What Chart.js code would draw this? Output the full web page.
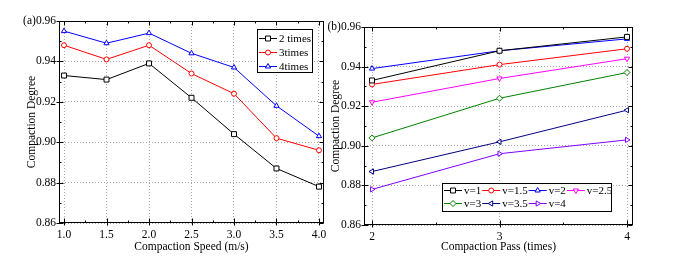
<!DOCTYPE html>
<html>
<head>
<meta charset="utf-8">
<script src="https://cdn.jsdelivr.net/npm/chart.js@4.4.1/dist/chart.umd.min.js"></script>
<style>
  html, body { margin: 0; padding: 0; background: #fff; }
  #wrap { position: relative; width: 678px; height: 272px; }
  canvas { position: absolute; left: 0; top: 0; }
</style>
</head>
<body>
<div id="wrap">
  <canvas id="speedChart" width="678" height="272"></canvas>
  <canvas id="passChart" width="678" height="272"></canvas>
</div>
<script>
// (a) compaction degree vs speed, one line per number of passes
const speeds = [1.0, 1.5, 2.0, 2.5, 3.0, 3.5, 4.0];
const twoTimes = [0.933, 0.931, 0.939, 0.922, 0.904, 0.887, 0.878];
const threeTimes = [0.948, 0.941, 0.948, 0.934, 0.924, 0.902, 0.896];
const fourTimes = [0.955, 0.949, 0.954, 0.944, 0.937, 0.918, 0.903];

// (b) compaction degree vs passes, one line per speed
const passes = [2, 3, 4];
const v1 = [0.933, 0.948, 0.955];
const v15 = [0.931, 0.941, 0.949];
const v2 = [0.939, 0.948, 0.954];
const v25 = [0.922, 0.934, 0.944];
const v3 = [0.904, 0.924, 0.937];
const v35 = [0.887, 0.902, 0.918];
const v4 = [0.878, 0.896, 0.903];

const degreeTicks = [0.86, 0.88, 0.90, 0.92, 0.94, 0.96];

Chart.defaults.font.family = "'Liberation Serif', 'Times New Roman', serif";
Chart.defaults.color = '#000';

const pts = (xs, ys) => xs.map((x, i) => ({ x: x, y: ys[i] }));
const mids = arr => arr.slice(1).map((v, i) => (v + arr[i]) / 2);

function series(label, xs, ys, color, style, rot, r) {
  return {
    label: label,
    data: pts(xs, ys),
    borderColor: color,
    borderWidth: 1,
    pointStyle: style,
    pointRotation: rot || 0,
    pointRadius: r || 3,
    pointBackgroundColor: '#fff',
    pointBorderColor: color,
    pointBorderWidth: 1,
    tension: 0
  };
}

// box, inward/crossing ticks on all four sides
const framePlugin = {
  id: 'frame',
  afterDraw(chart) {
    const { ctx, chartArea: a, scales } = chart;
    const xs = scales.x, ys = scales.y;
    const L = Math.round(a.left) + 0.5, R = Math.round(a.right) - 0.5;
    const T = Math.round(a.top) + 0.5, B = Math.round(a.bottom) - 0.5;
    ctx.save();
    ctx.strokeStyle = '#000';
    ctx.lineWidth = 1;
    ctx.beginPath();
    const xMaj = xs.ticks.map(t => t.value);
    const yMaj = ys.ticks.map(t => t.value);
    xMaj.forEach(v => {
      const p = Math.round(xs.getPixelForValue(v)) + 0.5;
      ctx.moveTo(p, B + 3); ctx.lineTo(p, B - 4);
      ctx.moveTo(p, T); ctx.lineTo(p, T + 4);
    });
    mids(xMaj).forEach(v => {
      const p = Math.round(xs.getPixelForValue(v)) + 0.5;
      ctx.moveTo(p, B); ctx.lineTo(p, B - 2);
      ctx.moveTo(p, T); ctx.lineTo(p, T + 2);
    });
    yMaj.forEach(v => {
      const p = Math.round(ys.getPixelForValue(v)) + 0.5;
      ctx.moveTo(L - 3, p); ctx.lineTo(L + 4, p);
      ctx.moveTo(R, p); ctx.lineTo(R - 4, p);
    });
    mids(yMaj).forEach(v => {
      const p = Math.round(ys.getPixelForValue(v)) + 0.5;
      ctx.moveTo(L, p); ctx.lineTo(L + 2, p);
      ctx.moveTo(R, p); ctx.lineTo(R - 2, p);
    });
    ctx.stroke();
    ctx.strokeRect(L, T, R - L, B - T);
    ctx.restore();
  }
};

// legend with a short line + marker sample, like the original plot
const lineLegend = {
  id: 'lineLegend',
  afterDraw(chart, args, o) {
    if (!o || !o.box) return;
    const ctx = chart.ctx;
    const b = o.box;
    ctx.save();
    ctx.fillStyle = '#fff';
    ctx.fillRect(b.x, b.y, b.w, b.h);
    ctx.strokeStyle = '#000';
    ctx.lineWidth = 1;
    ctx.strokeRect(b.x + 0.5, b.y + 0.5, b.w, b.h);
    ctx.font = o.font;
    ctx.textBaseline = 'middle';
    let xx = b.x + 2, row = 0;
    chart.data.datasets.forEach((ds, i) => {
      if (i && i % o.perRow === 0) { row++; xx = b.x + 2; }
      const yy = Math.round(b.y + o.rows[row]) + 0.5;
      ctx.strokeStyle = ds.borderColor;
      ctx.beginPath();
      ctx.moveTo(xx, yy); ctx.lineTo(xx + o.lineLen, yy);
      ctx.stroke();
      ctx.fillStyle = '#fff';
      ctx.lineWidth = 1;
      Chart.helpers.drawPoint(ctx, {
        pointStyle: ds.pointStyle, radius: ds.pointRadius,
        rotation: ds.pointRotation, borderWidth: 1
      }, xx + o.lineLen / 2, yy);
      ctx.fillStyle = '#000';
      ctx.fillText(ds.label, xx + o.lineLen + 2, yy + 1);
      xx += o.lineLen + 2 + ctx.measureText(ds.label).width + o.gap;
    });
    ctx.restore();
  }
};

function axes(xTicks, xFmt, yFlag, xMin, xMax, xTitle, yWidth, xHeight) {
  return {
    x: {
      type: 'linear', min: xMin, max: xMax,
      afterBuildTicks: s => { s.ticks = xTicks.map(v => ({ value: v })); },
      afterFit: s => { s.height = xHeight; },
      grid: { color: '#a8a8a8', lineWidth: 1, drawTicks: false },
      border: { display: false, dash: [1, 2] },
      ticks: { padding: 5, font: { size: 11.5 }, callback: xFmt, maxRotation: 0 },
      title: { display: true, text: xTitle, font: { size: 11.5 }, padding: { top: 0, bottom: 4 } }
    },
    y: {
      min: 0.86, max: 0.96,
      afterBuildTicks: s => { s.ticks = degreeTicks.map(v => ({ value: v })); },
      afterFit: s => { s.width = yWidth; },
      grid: { color: '#a8a8a8', lineWidth: 1, drawTicks: false },
      border: { display: false, dash: [1, 2] },
      ticks: {
        padding: 3, font: { size: 11.5 },
        callback: (v, i, t) => (i === t.length - 1 ? yFlag : '') + v.toFixed(2)
      },
      title: { display: true, text: 'Compaction Degree', font: { size: 11.5 } }
    }
  };
}

new Chart(document.getElementById('speedChart').getContext('2d'), {
  type: 'line',
  data: {
    datasets: [
      series('2 times', speeds, twoTimes, '#000000', 'rect', 0, 3.5),
      series('3times', speeds, threeTimes, '#ff0000', 'circle', 0, 2.5),
      series('4times', speeds, fourTimes, '#0000ff', 'triangle', 0, 3)
    ]
  },
  options: {
    responsive: false,
    animation: false,
    layout: { padding: { left: 21, top: 21, right: 354, bottom: 14 } },
    plugins: {
      legend: { display: false },
      tooltip: { enabled: false },
      lineLegend: {
        box: { x: 257, y: 29, w: 55, h: 43 },
        rows: [9, 23, 37], perRow: 1, lineLen: 18, gap: 1,
        font: "11px 'Liberation Serif', serif"
      }
    },
    scales: axes(speeds, v => v.toFixed(1), '(a)', 0.941, 4.059, 'Compaction Speed (m/s)', 38, 35)
  },
  plugins: [framePlugin, lineLegend]
});

new Chart(document.getElementById('passChart').getContext('2d'), {
  type: 'line',
  data: {
    datasets: [
      series('v=1', passes, v1, '#000000', 'rect', 0, 3.5),
      series('v=1.5', passes, v15, '#ff0000', 'circle', 0, 2.5),
      series('v=2', passes, v2, '#0000ff', 'triangle', 0, 3),
      series('v=2.5', passes, v25, '#ff00ff', 'triangle', 180, 3),
      series('v=3', passes, v3, '#008000', 'rectRot', 0, 3),
      series('v=3.5', passes, v35, '#000080', 'triangle', 270, 3),
      series('v=4', passes, v4, '#8000ff', 'triangle', 90, 3)
    ]
  },
  options: {
    responsive: false,
    animation: false,
    layout: { padding: { left: 325, top: 27, right: 45, bottom: 14 } },
    plugins: {
      legend: { display: false },
      tooltip: { enabled: false },
      lineLegend: {
        box: { x: 442, y: 183, w: 169, h: 28 },
        rows: [7, 20], perRow: 4, lineLen: 18, gap: 1,
        font: "11px 'Liberation Serif', serif"
      }
    },
    scales: axes(passes, v => String(v), '(b)', 1.937, 4.047, 'Compaction Pass (times)', 39, 33)
  },
  plugins: [framePlugin, lineLegend]
});
</script>
</body>
</html>
